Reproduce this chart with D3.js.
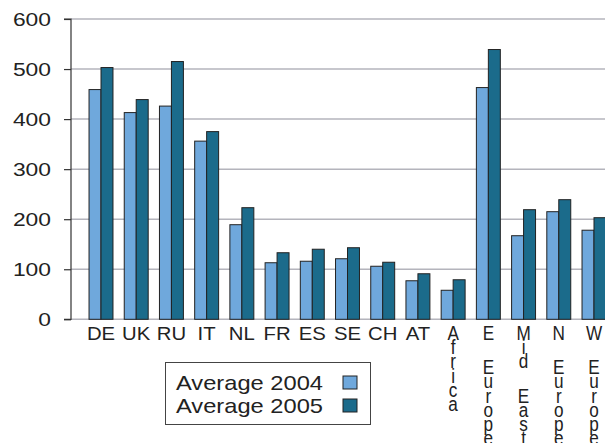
<!DOCTYPE html>
<html>
<head>
<meta charset="utf-8">
<script src="https://cdn.jsdelivr.net/npm/d3@7"></script>
<style>
  html, body { margin: 0; padding: 0; background: #fff; }
  svg { display: block; }
  text { font-family: "Liberation Sans", Arial, sans-serif; fill: #222; }
</style>
</head>
<body>
<svg id="chart" width="605" height="443"></svg>
<script>
const categories = ["DE","UK","RU","IT","NL","FR","ES","SE","CH","AT","Africa","E Europe","Mid East","N Europe","W Europe"];
const seriesNames = ["Average 2004","Average 2005"];
const avg2004 = [459,413,426,356,189,113,116,121,106,77,58,463,167,215,178];
const avg2005 = [503,439,515,375,223,133,140,143,114,91,79,539,219,239,203];
const yTicks = [0,100,200,300,400,500,600];
const colors = ["#6fa8dc","#1b6b8b"];

const svg = d3.select("#chart");
const plotLeft = 71, plotRight = 605;
const y = d3.scaleLinear().domain([0,600]).range([319.3,19]);
const x0 = d3.scaleBand().domain(categories).range([83.4, 611.6]).paddingInner(0.32).paddingOuter(0.16);
const x1 = d3.scaleBand().domain(seriesNames).range([0, x0.bandwidth()]);

// gridlines
svg.append("g").selectAll("line").data(yTicks).join("line")
  .attr("x1", plotLeft).attr("x2", plotRight)
  .attr("y1", d => y(d)).attr("y2", d => y(d))
  .attr("stroke", "#b4b4bc").attr("stroke-width", 1.5);

// y axis
const yAxis = d3.axisLeft(y).tickValues(yTicks).tickSize(7).tickPadding(13);
const ga = svg.append("g").attr("transform", `translate(${plotLeft},0)`).call(yAxis);
ga.select(".domain").attr("stroke", "#333").attr("stroke-width", 1.2).attr("d", `M-7,${y(600)}H0V${y(0)}H-7`);
ga.selectAll(".tick line").attr("stroke", "#333").attr("stroke-width", 1.2);
ga.selectAll(".tick text").style("font-size", "18.5px").attr("fill", "#222")
  .style("font-family", '"Liberation Sans", Arial, sans-serif').attr("dy", "0.36em")
  .attr("textLength", d => String(d).length * 12.7).attr("lengthAdjust", "spacingAndGlyphs");

// bars
const rows = categories.map((c, i) => ({cat: c, vals: [avg2004[i], avg2005[i]]}));
const groups = svg.append("g").selectAll("g").data(rows).join("g")
  .attr("transform", d => `translate(${x0(d.cat)},0)`);
groups.selectAll("rect").data(d => d.vals.map((v, j) => ({name: seriesNames[j], v, j}))).join("rect")
  .attr("x", d => x1(d.name)).attr("width", x1.bandwidth())
  .attr("y", d => y(d.v)).attr("height", d => y(0) - y(d.v))
  .attr("fill", d => colors[d.j]).attr("stroke", "#222").attr("stroke-width", 1);

// x labels
const lab = svg.append("g");
categories.forEach(c => {
  const cx = x0(c) + x0.bandwidth() / 2;
  if (c.length <= 2) {
    const t = lab.append("text").attr("x", cx).attr("y", 340).attr("text-anchor", "middle")
      .style("font-size", "17.5px").text(c);
    const w = t.node().getComputedTextLength();
    t.attr("textLength", w * 1.16).attr("lengthAdjust", "spacingAndGlyphs");
  } else {
    const t = lab.append("text").attr("text-anchor", "middle").style("font-size", "19.5px")
      .attr("transform", `translate(${cx},0) scale(0.88,1)`);
    let yy = 340;
    const chars = c.split("");
    chars.forEach((ch, k) => {
      if (k > 0) yy += (chars[k - 1] === " ") ? 20 : 14.2;
      t.append("tspan").attr("x", 0).attr("y", yy).text(ch === " " ? "\u00a0" : ch);
    });
  }
});

// legend
const lg = svg.append("g");
lg.append("rect").attr("x", 165.5).attr("y", 362.5).attr("width", 205).attr("height", 62)
  .attr("fill", "#fff").attr("stroke", "#444").attr("stroke-width", 1);
seriesNames.forEach((n, i) => {
  lg.append("text").attr("x", 176).attr("y", 390 + i * 23).style("font-size", "21px")
    .attr("textLength", 147).attr("lengthAdjust", "spacingAndGlyphs").text(n);
  lg.append("rect").attr("x", 343).attr("y", 376 + i * 23).attr("width", 14).attr("height", 13)
    .attr("fill", colors[i]).attr("stroke", "#222").attr("stroke-width", 1);
});
</script>
</body>
</html>
